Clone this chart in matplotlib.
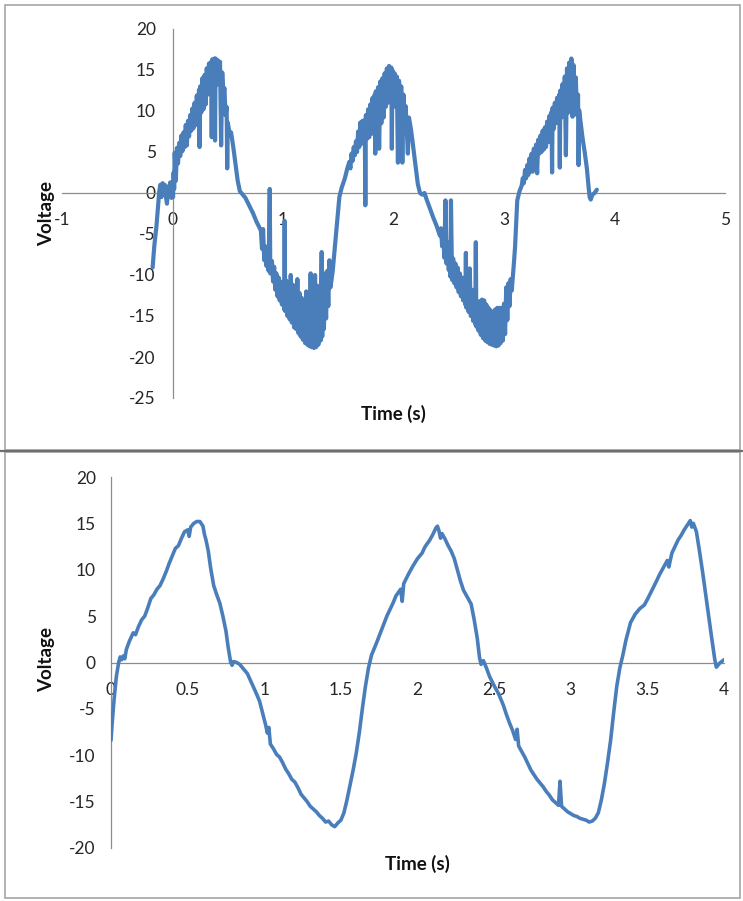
import numpy as np
import matplotlib
matplotlib.use('Agg')
import matplotlib.pyplot as plt
from matplotlib.patches import Rectangle

plt.rcParams['font.family'] = ['Lato', 'DejaVu Sans']
plt.rcParams['axes.unicode_minus'] = False

# first run, noisy trace: (time s, voltage)
trace_top = [
    (-0.18, -9.1), (-0.165, -6.5), (-0.145, -4.0), (-0.13, -1.5), (-0.12, 0.2), (-0.11, 1.0),
    (-0.10, -0.5), (-0.09, 1.2), (-0.08, 0.3), (-0.07, 1.0), (-0.06, -0.4), (-0.05, -1.3),
    (-0.04, 0.8), (-0.03, 0.2), (-0.02, 1.3), (-0.01, -0.6), (0.0, 0.9), (0.005, -0.5),
    (0.01, 2.5), (0.015, 0.5), (0.02, 4.9), (0.03, 1.5), (0.04, 5.5), (0.05, 3.6), (0.06, 6.1),
    (0.07, 4.5), (0.08, 7.0), (0.09, 5.1), (0.10, 7.4), (0.11, 5.6), (0.12, 8.3), (0.13, 5.8),
    (0.14, 8.8), (0.15, 6.9), (0.16, 9.5), (0.17, 7.6), (0.18, 10.3), (0.19, 7.9), (0.20, 11.0),
    (0.21, 8.3), (0.22, 11.9), (0.23, 8.6), (0.24, 12.6), (0.245, 5.6), (0.25, 13.0), (0.26, 9.8),
    (0.27, 14.0), (0.28, 10.2), (0.29, 14.4), (0.30, 10.8), (0.31, 15.2), (0.32, 12.0),
    (0.33, 15.8), (0.34, 12.5), (0.35, 16.0), (0.355, 6.8), (0.36, 16.3), (0.37, 13.0),
    (0.38, 16.4), (0.385, 6.4), (0.39, 16.4), (0.40, 13.2), (0.41, 16.2), (0.42, 13.4),
    (0.43, 16.0), (0.44, 5.8), (0.45, 14.7), (0.46, 12.0), (0.47, 12.8), (0.48, 9.5), (0.49, 10.5),
    (0.495, 3.0), (0.50, 8.6), (0.52, 7.0), (0.53, 7.4), (0.55, 5.6), (0.57, 3.5), (0.59, 1.5),
    (0.61, 0.2), (0.63, -0.1), (0.66, -0.6), (0.70, -1.7), (0.73, -2.5), (0.76, -3.5), (0.79, -4.3),
    (0.80, -4.6), (0.81, -6.8), (0.82, -4.4), (0.83, -8.2), (0.84, -6.5), (0.85, -8.9), (0.86, -7.4),
    (0.87, -9.5), (0.88, 0.5), (0.885, -9.8), (0.90, -8.3), (0.91, -10.8), (0.92, -9.0),
    (0.93, -11.8), (0.94, -9.8), (0.95, -12.6), (0.96, -10.3), (0.97, -13.1), (0.98, -10.8),
    (0.99, -13.6), (1.00, -11.0), (1.01, -14.2), (1.015, -3.4), (1.02, -14.4), (1.03, -10.7),
    (1.04, -15.0), (1.05, -11.8), (1.06, -15.4), (1.07, -10.0), (1.08, -15.8), (1.09, -11.2),
    (1.10, -16.4), (1.11, -12.5), (1.12, -16.6), (1.13, -10.5), (1.14, -17.1), (1.15, -12.2),
    (1.16, -17.5), (1.17, -12.8), (1.18, -17.9), (1.19, -13.5), (1.20, -18.3), (1.21, -12.0),
    (1.22, -18.5), (1.23, -13.8), (1.24, -18.7), (1.25, -9.8), (1.26, -18.8), (1.27, -11.5),
    (1.28, -18.9), (1.29, -10.0), (1.30, -18.8), (1.31, -11.3), (1.32, -18.5), (1.33, -12.0),
    (1.34, -18.0), (1.35, -7.2), (1.355, -17.5), (1.36, -10.2), (1.37, -16.6), (1.38, -9.8),
    (1.39, -15.3), (1.40, -9.5), (1.41, -13.8), (1.42, -8.2), (1.43, -11.5), (1.45, -9.5),
    (1.47, -6.5), (1.49, -3.4), (1.51, -0.5), (1.53, 0.6), (1.56, 1.8), (1.58, 2.9),
    (1.60, 3.8), (1.61, 3.0), (1.62, 4.8), (1.63, 3.9), (1.64, 5.6), (1.65, 4.6), (1.66, 6.3),
    (1.67, 5.0), (1.68, 7.5), (1.69, 5.6), (1.70, 8.6), (1.71, 6.0), (1.72, 8.8), (1.73, 6.4),
    (1.74, 8.9), (1.745, -1.5), (1.75, 9.5), (1.76, 6.6), (1.77, 10.2), (1.78, 6.8), (1.79, 10.8),
    (1.80, 7.2), (1.81, 11.6), (1.82, 7.5), (1.83, 12.0), (1.835, 4.8), (1.84, 12.4), (1.85, 7.8),
    (1.86, 12.9), (1.87, 5.4), (1.88, 13.6), (1.89, 8.5), (1.90, 14.0), (1.91, 9.2), (1.92, 14.6),
    (1.93, 10.5), (1.94, 15.2), (1.95, 11.0), (1.96, 15.5), (1.97, 11.5), (1.98, 15.3),
    (1.985, 5.4), (1.99, 15.0), (2.00, 10.8), (2.01, 14.6), (2.02, 10.5), (2.03, 14.2),
    (2.04, 3.7), (2.05, 13.7), (2.06, 9.5), (2.07, 13.0), (2.08, 3.7), (2.09, 12.0), (2.10, 9.0),
    (2.11, 10.6), (2.13, 4.8), (2.14, 9.2), (2.16, 7.6), (2.19, 4.3), (2.22, 1.1), (2.24, 0.0),
    (2.26, -0.2), (2.28, 0.0), (2.30, -0.8), (2.33, -1.9), (2.36, -3.0), (2.39, -4.0), (2.42, -5.2),
    (2.43, -4.3), (2.44, -6.5), (2.45, -4.8), (2.46, -7.9), (2.47, -0.9), (2.48, -8.6),
    (2.49, -6.0), (2.50, -9.4), (2.51, -7.4), (2.515, -10.2), (2.52, -0.9), (2.53, -10.6),
    (2.54, -8.0), (2.55, -11.0), (2.56, -8.6), (2.57, -11.5), (2.58, -9.1), (2.59, -12.1),
    (2.60, -9.8), (2.61, -12.6), (2.62, -10.3), (2.63, -13.1), (2.64, -10.6), (2.65, -13.6),
    (2.655, -7.3), (2.66, -14.0), (2.67, -11.0), (2.68, -14.5), (2.69, -9.2), (2.70, -15.0),
    (2.71, -11.8), (2.72, -15.6), (2.73, -12.5), (2.74, -16.0), (2.745, -6.0), (2.75, -16.3),
    (2.76, -13.5), (2.77, -16.8), (2.78, -13.2), (2.79, -17.3), (2.80, -13.0), (2.81, -17.7),
    (2.82, -13.1), (2.83, -18.0), (2.84, -13.6), (2.85, -18.2), (2.86, -14.0), (2.87, -18.4),
    (2.88, -14.3), (2.89, -18.5), (2.90, -14.7), (2.91, -18.6), (2.92, -14.2), (2.93, -18.7),
    (2.94, -14.0), (2.95, -18.6), (2.96, -14.0), (2.97, -18.3), (2.98, -14.0), (2.99, -18.0),
    (3.00, -13.5), (3.01, -17.2), (3.02, -11.5), (3.03, -15.5), (3.04, -11.0), (3.05, -13.8),
    (3.06, -10.5), (3.07, -11.9), (3.09, -8.5), (3.10, -6.6), (3.12, -0.9), (3.14, 0.2),
    (3.16, 0.9), (3.17, 1.8), (3.18, 1.2), (3.19, 2.8), (3.20, 1.8), (3.21, 3.4), (3.22, 2.2),
    (3.23, 4.2), (3.24, 2.6), (3.25, 4.8), (3.26, 2.6), (3.27, 5.4), (3.28, 3.8), (3.29, 5.9),
    (3.30, 2.4), (3.31, 6.5), (3.32, 4.8), (3.33, 7.0), (3.34, 5.0), (3.35, 7.6), (3.36, 5.3),
    (3.37, 8.0), (3.38, 5.6), (3.39, 8.7), (3.40, 6.2), (3.41, 9.4), (3.42, 7.0), (3.43, 9.9),
    (3.435, 2.5), (3.44, 10.4), (3.45, 7.8), (3.46, 11.0), (3.47, 8.5), (3.48, 11.6), (3.49, 8.8),
    (3.50, 12.0), (3.505, 3.1), (3.51, 12.5), (3.52, 9.2), (3.53, 13.3), (3.54, 9.4), (3.55, 14.2),
    (3.56, 4.6), (3.57, 15.2), (3.58, 9.8), (3.59, 15.9), (3.60, 10.0), (3.61, 16.4), (3.62, 9.3),
    (3.63, 15.6), (3.64, 10.5), (3.65, 14.1), (3.66, 9.5), (3.67, 12.0), (3.675, 3.4),
    (3.68, 10.1), (3.71, 6.8), (3.73, 5.0), (3.75, 3.0), (3.765, 0.8), (3.775, -0.5),
    (3.785, -0.8), (3.80, -0.2), (3.82, 0.0), (3.84, 0.4),
]

# second run, cleaner trace
trace_bottom = [
    (0.00, -8.4), (0.01, -6.0), (0.02, -4.0), (0.035, -1.5), (0.05, 0.0), (0.06, 0.6), (0.07, 0.3),
    (0.08, 0.7), (0.09, 0.4), (0.10, 1.4), (0.12, 2.3), (0.145, 3.2), (0.16, 3.0), (0.18, 3.9),
    (0.20, 4.6), (0.22, 5.0), (0.24, 5.9), (0.26, 6.9), (0.28, 7.3), (0.30, 7.9), (0.32, 8.3),
    (0.34, 9.0), (0.36, 9.8), (0.38, 10.7), (0.40, 11.5), (0.42, 12.3), (0.44, 12.6), (0.46, 13.4),
    (0.48, 14.1), (0.50, 14.3), (0.51, 13.6), (0.52, 14.6), (0.54, 15.0), (0.56, 15.2),
    (0.58, 15.2), (0.60, 14.7), (0.61, 13.8), (0.62, 13.2), (0.635, 12.0), (0.65, 10.2),
    (0.67, 8.3), (0.69, 7.3), (0.71, 6.4), (0.73, 5.0), (0.75, 3.4), (0.765, 1.6), (0.78, 0.1),
    (0.79, -0.3), (0.80, 0.1), (0.82, 0.0), (0.84, -0.2), (0.86, -0.6), (0.89, -1.2), (0.92, -2.3),
    (0.95, -3.4), (0.97, -4.2), (0.99, -5.5), (1.01, -6.8), (1.02, -7.6), (1.03, -7.0),
    (1.04, -8.8), (1.06, -9.3), (1.08, -9.9), (1.10, -10.2), (1.12, -10.8), (1.14, -11.5),
    (1.16, -12.0), (1.18, -12.6), (1.20, -12.9), (1.22, -13.5), (1.24, -14.2), (1.26, -14.6),
    (1.28, -15.0), (1.30, -15.5), (1.32, -15.8), (1.34, -16.1), (1.36, -16.5), (1.38, -16.8),
    (1.40, -17.2), (1.42, -17.1), (1.44, -17.5), (1.46, -17.7), (1.48, -17.3), (1.50, -17.0),
    (1.52, -16.2), (1.54, -14.8), (1.56, -13.2), (1.58, -11.6), (1.60, -9.8), (1.62, -7.6),
    (1.64, -5.0), (1.66, -2.6), (1.68, -0.6), (1.70, 0.8), (1.73, 2.0), (1.76, 3.3), (1.80, 5.0),
    (1.84, 6.4), (1.86, 7.2), (1.89, 7.9), (1.90, 6.6), (1.91, 8.5), (1.94, 9.5), (1.97, 10.4),
    (2.00, 11.2), (2.03, 11.8), (2.05, 12.5), (2.08, 13.2), (2.10, 13.8), (2.12, 14.5),
    (2.13, 14.7), (2.14, 14.2), (2.15, 13.4), (2.16, 13.9), (2.18, 13.3), (2.20, 12.6),
    (2.22, 12.0), (2.24, 11.2), (2.26, 10.0), (2.28, 8.8), (2.30, 7.8), (2.32, 7.2), (2.35, 6.3),
    (2.37, 4.6), (2.39, 2.6), (2.405, 0.5), (2.415, -0.2), (2.43, 0.2), (2.45, -0.6),
    (2.47, -1.5), (2.50, -2.5), (2.53, -3.4), (2.56, -4.6), (2.58, -5.6), (2.60, -6.5),
    (2.62, -7.3), (2.64, -8.3), (2.65, -7.2), (2.66, -9.0), (2.68, -9.6), (2.70, -10.2),
    (2.72, -10.9), (2.74, -11.6), (2.76, -12.1), (2.78, -12.6), (2.80, -13.0), (2.82, -13.4),
    (2.84, -13.9), (2.86, -14.3), (2.88, -14.8), (2.90, -15.1), (2.92, -15.4), (2.93, -12.8),
    (2.94, -15.5), (2.96, -15.8), (2.98, -16.1), (3.00, -16.3), (3.02, -16.5), (3.04, -16.6),
    (3.06, -16.8), (3.08, -16.9), (3.10, -17.0), (3.12, -17.2), (3.14, -17.1), (3.16, -16.8),
    (3.18, -16.2), (3.20, -14.8), (3.22, -13.0), (3.24, -10.8), (3.26, -8.4), (3.28, -5.4),
    (3.30, -2.6), (3.32, -0.6), (3.34, 0.8), (3.36, 2.4), (3.39, 4.3), (3.42, 5.2), (3.45, 5.8),
    (3.48, 6.2), (3.50, 6.8), (3.53, 7.8), (3.56, 8.8), (3.58, 9.5), (3.61, 10.4), (3.63, 11.0),
    (3.64, 10.3), (3.66, 11.8), (3.68, 12.5), (3.70, 13.2), (3.72, 13.7), (3.74, 14.3),
    (3.76, 14.8), (3.78, 15.3), (3.79, 14.6), (3.80, 15.0), (3.82, 14.1), (3.84, 12.0),
    (3.86, 9.8), (3.88, 7.4), (3.90, 5.0), (3.92, 2.6), (3.94, 0.3), (3.95, -0.5), (3.97, -0.1),
    (4.00, 0.3),
]

top_xticks = [-1, 0, 1, 2, 3, 4, 5]
top_xlabels = ['-1', '0', '1', '2', '3', '4', '5']
top_yticks = [20, 15, 10, 5, 0, -5, -10, -15, -20, -25]
bottom_xticks = [0, 0.5, 1, 1.5, 2, 2.5, 3, 3.5, 4]
bottom_xlabels = ['0', '0.5', '1', '1.5', '2', '2.5', '3', '3.5', '4']
bottom_yticks = [20, 15, 10, 5, 0, -5, -10, -15, -20]

W, H = 743, 901
fig = plt.figure(figsize=(W / 100, H / 100), dpi=100)


def px_rect(left, top, right, bottom):
    # pixel box (from top-left) -> figure fraction rect
    return [left / W, 1 - bottom / H, (right - left) / W, (bottom - top) / H]


def excel_chart(rect, trace, xlim, ylim, xticks, xlabels, yticks, xlab_px, ylab_px, ypad, lw):
    ax = fig.add_axes(rect)
    t, v = np.array(trace).T
    ax.plot(t, v, color='#4A7EBB', lw=lw, zorder=3, solid_joinstyle='round',
            solid_capstyle='round')
    ax.set_xlim(xlim)
    ax.set_ylim(ylim)
    ax.set_xticks(xticks)
    ax.set_xticklabels(xlabels)
    ax.set_yticks(yticks)
    ax.spines['top'].set_visible(False)
    ax.spines['right'].set_visible(False)
    ax.spines['left'].set_position(('data', 0))
    ax.spines['bottom'].set_position(('data', 0))
    for s in ['left', 'bottom']:
        ax.spines[s].set_color('#8C8C8C')
        ax.spines[s].set_linewidth(0.9)
    ax.tick_params(length=0, labelsize=12.5, labelcolor='#262626')
    ax.tick_params(axis='x', pad=14)
    ax.tick_params(axis='y', pad=ypad)
    ax.patch.set_alpha(0)
    fig.text(xlab_px[0] / W, 1 - xlab_px[1] / H, 'Time (s)', ha='center', va='center',
             fontsize=13.5, fontweight='bold', color='#111111')
    fig.text(ylab_px[0] / W, 1 - ylab_px[1] / H, 'Voltage', ha='center', va='center',
             rotation=90, fontsize=13.5, fontweight='bold', color='#111111')
    return ax


# panel frames
fig.add_artist(Rectangle((5 / W, 1 - 450 / H), 735 / W, 445 / H, transform=fig.transFigure,
                         fill=False, edgecolor='#A6A6A6', lw=1.2))
fig.add_artist(Rectangle((5 / W, 1 - 898 / H), 735 / W, 446 / H, transform=fig.transFigure,
                         fill=False, edgecolor='#A6A6A6', lw=1.2))
fig.add_artist(plt.Line2D([0, 1], [1 - 451 / H, 1 - 451 / H], transform=fig.transFigure,
                          color='#6E6E6E', lw=1.6))

excel_chart(px_rect(62, 29, 725, 398), trace_top, (-1, 5), (-25, 20),
            top_xticks, top_xlabels, top_yticks, (393, 414), (47, 213), 12, 3.0)
excel_chart(px_rect(111, 477, 724, 848), trace_bottom, (0, 4), (-20, 20),
            bottom_xticks, bottom_xlabels, bottom_yticks, (417, 864), (47, 660), 11, 2.6)

fig.savefig('out.png', dpi=100)
